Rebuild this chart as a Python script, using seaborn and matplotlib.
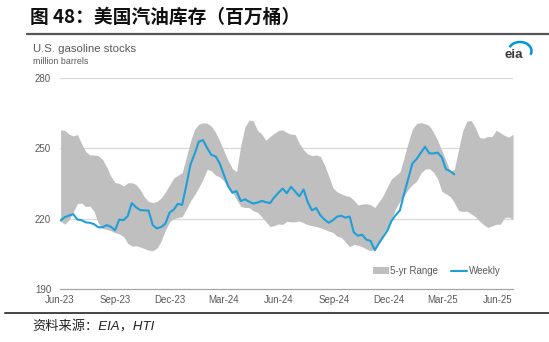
import numpy as np
import pandas as pd
import matplotlib
matplotlib.use("Agg")
import matplotlib.pyplot as plt
import matplotlib.dates as mdates
from matplotlib.lines import Line2D
from matplotlib.patches import Patch, Arc
import seaborn as sns

# U.S. gasoline stocks, million barrels (weekly, week ending Friday)
weekly_start = "2023-06-02"
weekly_stocks = [
    219.2, 220.6, 221.3, 221.9, 219.6, 219.3, 218.4, 218.2, 217.6, 216.3,
    216.3, 217.2, 216.5, 215.0, 219.6, 219.3, 221.0, 226.6, 224.8, 223.6,
    223.5, 223.4, 217.2, 215.8, 216.4, 217.8, 222.5, 223.8, 226.3, 225.8,
    234.0, 243.0, 247.6, 252.8, 253.4, 250.0, 247.1, 246.5, 243.5, 238.5,
    233.8, 231.0, 231.7, 227.5, 228.2, 227.2, 226.4, 226.8, 227.5, 227.0,
    226.6, 229.0, 231.0, 232.8, 230.8, 233.5, 231.5, 229.5, 232.4, 227.0,
    223.5, 224.5, 221.4, 219.6, 218.2, 219.3, 220.8, 221.2, 220.4, 220.9,
    214.1, 212.7, 213.1, 211.0, 210.5, 206.5, 209.5, 212.2, 214.8, 219.0,
    221.5, 223.5, 230.5, 237.0, 243.5, 245.4, 248.0, 250.6, 247.8, 247.7,
    248.1, 246.1, 241.0, 240.2, 238.8,
]

# Five-year range (max / min of same week over prior five years)
range_start = "2023-06-02"
range_high = [
    257.8, 257.5, 256.0, 255.2, 255.8, 252.0, 248.5, 247.1, 247.1, 246.8,
    245.2, 242.0, 238.0, 235.3, 235.0, 233.8, 235.2, 235.3, 234.5, 232.3,
    229.2, 227.3, 226.8, 227.3, 228.8, 231.2, 234.3, 237.3, 238.4, 239.5,
    246.0, 252.8, 258.1, 260.2, 260.8, 260.6, 259.3, 256.7, 253.0, 248.8,
    244.7, 241.3, 240.0, 251.0, 259.0, 262.0, 261.6, 257.5, 256.0, 253.3,
    255.0, 256.3, 257.5, 257.8, 256.6, 256.0, 255.8, 252.0, 249.3, 247.5,
    246.8, 247.1, 246.5, 242.8, 238.2, 233.2, 231.4, 230.5, 229.8, 229.4,
    227.8, 225.8, 226.2, 226.3, 225.9, 224.7, 227.2, 229.8, 233.5, 236.9,
    238.4, 239.8, 246.0, 252.5, 258.2, 260.5, 260.8, 260.4, 259.6, 256.8,
    253.3, 249.0, 244.8, 240.0, 241.0, 249.4, 257.4, 261.5, 261.8, 258.8,
    254.5, 254.2, 255.0, 254.9, 257.6, 256.5, 255.4, 254.7, 255.9,
]
range_low = [
    218.8, 217.6, 219.4, 222.7, 226.4, 226.6, 225.1, 225.3, 223.0, 218.0,
    215.8, 215.4, 214.8, 214.0, 213.5, 212.4, 209.5, 208.3, 208.4, 207.9,
    207.2, 206.5, 206.3, 207.4, 210.4, 215.0, 218.5, 220.0, 220.4, 220.8,
    224.0, 227.5, 230.2, 233.3, 236.7, 241.0, 240.3, 238.5, 237.7, 236.0,
    233.2, 231.2, 228.1, 225.2, 224.7, 224.7, 223.3, 222.7, 220.8, 218.7,
    216.6, 217.0, 217.7, 217.5, 218.8, 218.6, 218.6, 219.0, 218.2, 217.4,
    217.0, 216.6, 216.1, 215.4, 214.7, 214.1, 212.5, 212.0, 210.0, 208.0,
    209.0, 208.6, 208.0, 207.0, 206.3, 207.2, 209.6, 213.5, 216.2, 219.8,
    224.3, 227.3, 229.8, 232.5, 234.5, 235.9, 239.4, 241.0, 241.3, 239.8,
    237.0, 231.6, 230.5, 229.4, 226.8, 223.4, 223.0, 223.2, 222.0, 220.8,
    219.0, 217.4, 216.2, 216.8, 217.6, 217.6, 220.4, 220.6, 219.6,
]

y_ticks = [190, 220, 250, 280]
x_ticks = ["2023-06-01", "2023-09-01", "2023-12-01", "2024-03-01", "2024-06-01",
           "2024-09-01", "2024-12-01", "2025-03-01", "2025-06-01"]

title = "图 48：美国汽油库存（百万桶）"
chart_title = "U.S. gasoline stocks"
unit = "million barrels"
source = "资料来源：EIA，HTI"

weekly = pd.DataFrame({
    "date": pd.date_range(weekly_start, periods=len(weekly_stocks), freq="7D"),
    "stocks": weekly_stocks,
})
band = pd.DataFrame({
    "date": pd.date_range(range_start, periods=len(range_high), freq="7D"),
    "high": range_high,
    "low": range_low,
})

sns.set_theme(style="white")
plt.rcParams["font.family"] = ["Liberation Sans", "DejaVu Sans"]

W, H = 549, 342
fig = plt.figure(figsize=(W / 100, H / 100), dpi=100)
ax = fig.add_axes([60 / W, 1 - 289 / H, (513 - 60) / W, (289 - 77.7) / H])

BAND = "#BFBFBF"
BLUE = "#1E9FD8"
GRID = "#D9D9D9"
TXT = "#595959"

ax.fill_between(band["date"], band["low"], band["high"], color=BAND, lw=0, zorder=2)
sns.lineplot(data=weekly, x="date", y="stocks", ax=ax, color=BLUE, lw=1.5, zorder=3)

ax.set_xlim(pd.Timestamp("2023-06-01"), pd.Timestamp("2025-06-27"))
ax.set_ylim(190, 280)
ax.set_yticks(y_ticks)
ax.set_xticks(pd.to_datetime(x_ticks))
ax.xaxis.set_major_formatter(mdates.DateFormatter("%b-%y"))
ax.set_xlabel("")
ax.set_ylabel("")

for v in y_ticks[1:]:
    ax.axhline(v, color=GRID, lw=0.9, zorder=1)

for s in ["top", "right", "left"]:
    ax.spines[s].set_visible(False)
ax.spines["bottom"].set_color("#A6A6A6")
ax.spines["bottom"].set_linewidth(0.9)

ax.tick_params(axis="x", direction="in", length=3, width=0.8, color="#A6A6A6",
               labelsize=7, labelcolor=TXT, pad=4)
ax.tick_params(axis="y", length=0, labelsize=7, labelcolor=TXT, pad=18)
for lbl in ax.get_yticklabels():
    lbl.set_horizontalalignment("left")

handles = [Patch(facecolor=BAND, edgecolor="none"),
           Line2D([], [], color=BLUE, lw=1.5)]
ax.legend(handles, ["5-yr Range", "Weekly"], ncol=2, frameon=False,
          loc="center left", bbox_to_anchor=((373 - 60) / 453, (289 - 271) / 211.3),
          fontsize=7, labelcolor=TXT, handlelength=1.65, handleheight=0.6,
          handletextpad=0.15, columnspacing=1.3, borderaxespad=0, borderpad=0)

# page header and footer
fig.text(30 / W, 1 - 17 / H, title, fontsize=13.5, fontweight="bold",
         family=["Noto Sans CJK SC", "DejaVu Sans"], color="#111111",
         ha="left", va="center")
fig.add_artist(Line2D([27 / W, 1], [1 - 33.5 / H, 1 - 33.5 / H],
                      color="#555555", lw=1.6, transform=fig.transFigure))
fig.add_artist(Line2D([5 / W, 1], [1 - 313 / H, 1 - 313 / H],
                      color="#444444", lw=1.4, transform=fig.transFigure))
fig.text(32 / W, 1 - 327 / H, source, fontsize=9.5, style="italic",
         family=["Liberation Sans", "Noto Sans CJK SC", "DejaVu Sans"],
         color="#222222", ha="left", va="center")

# chart heading
fig.text(33 / W, 1 - 49 / H, chart_title, fontsize=8.2, color=TXT,
         ha="left", va="center")
fig.text(33 / W, 1 - 61.5 / H, unit, fontsize=6.4, color=TXT,
         ha="left", va="center")

# eia mark
fig.text(504.5 / W, 1 - 55.5 / H, "eia", fontsize=9.5, color="#3A3A3A",
         ha="left", va="center", fontweight="bold")
fig.add_artist(Arc((520 / W, 1 - 51 / H), 23 / W, 18 / H, theta1=-30, theta2=150,
                   color="#0096D7", lw=1.8, transform=fig.transFigure))

fig.savefig("out.png", dpi=100)
